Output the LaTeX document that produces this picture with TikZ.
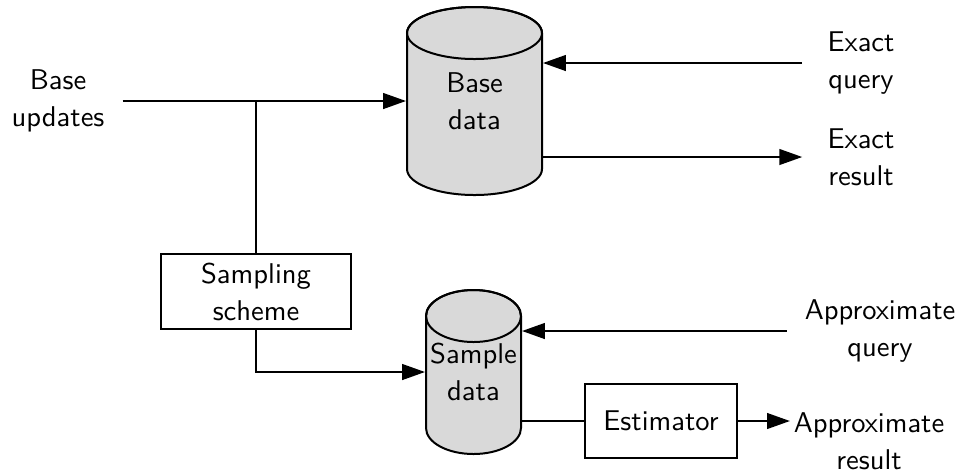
\documentclass[tikz,border=0pt]{standalone}
\usepackage{tikz}
\usetikzlibrary{arrows.meta}

\definecolor{storegray}{RGB}{217,217,217}

\tikzset{
  box/.style={draw, inner sep=0pt, align=center},
  store/.style={inner sep=0pt, align=center},
  lbl/.style={align=center, inner xsep=6pt},
  arr/.style={-{Triangle[length=8pt,width=5.5pt]}},
}

\begin{document}
\begin{tikzpicture}[x=0.35pt, y=-0.35pt, line width=0.7pt,
  font=\sffamily\fontsize{10}{13}\selectfont]

	\useasboundingbox (0,0) rectangle (961,472);

	% the two data stores
	\filldraw[fill=storegray] (407,33) -- (407,169) arc (180:0:67.5 and 26)
		-- (542,33) arc (0:-180:67.5 and 26) -- cycle;
	\draw (474.5,33) ellipse (67.5 and 26);
	\filldraw[fill=storegray] (426,316) -- (426,428) arc (180:0:47.5 and 26)
		-- (521,316) arc (0:-180:47.5 and 26) -- cycle;
	\draw (473.5,316) ellipse (47.5 and 26);

	\node[store, minimum width=47.25pt, minimum height=47.6pt] (base) at (474.5,101) {Base\\data};
	\node[store, minimum width=33.25pt, minimum height=39.2pt] (sample) at (473.5,372) {Sample\\data};

	\node[box, minimum width=66.5pt, minimum height=26.25pt] (samp) at (256,291.5) {Sampling\\scheme};
	\node[box, minimum width=53.2pt, minimum height=25.9pt] (est) at (661,421) {Estimator};

	% labels
	\node[lbl] (upd) at (58,100.5) {Base\\updates};
	\node[lbl, inner xsep=8.5pt] (exq) at (861,63) {Exact\\query};
	\node[lbl, inner xsep=8.5pt] (exres) at (861,157) {Exact\\result};
	\node[lbl] (apq) at (880,331) {Approximate\\query};
	\node[lbl, inner xsep=1pt] (apres) at (869,441) {Approximate\\result};

	% connectors
	\draw[arr] (upd.east |- base.west) -- (base.west);
	\draw (samp.north) -- (samp.north |- base.west);
	\draw[arr] (samp.south) |- (sample.west);
	\draw[arr] (exq.west) -- (base.east |- exq.west);
	\draw[arr] (base.east |- exres.west) -- (exres.west);
	\draw[arr] (apq.west) -- (sample.east |- apq.west);
	\draw (sample.east |- est.west) -- (est.west);
	\draw[arr] (est.east) -- (apres.west |- est.east);

\end{tikzpicture}
\end{document}
